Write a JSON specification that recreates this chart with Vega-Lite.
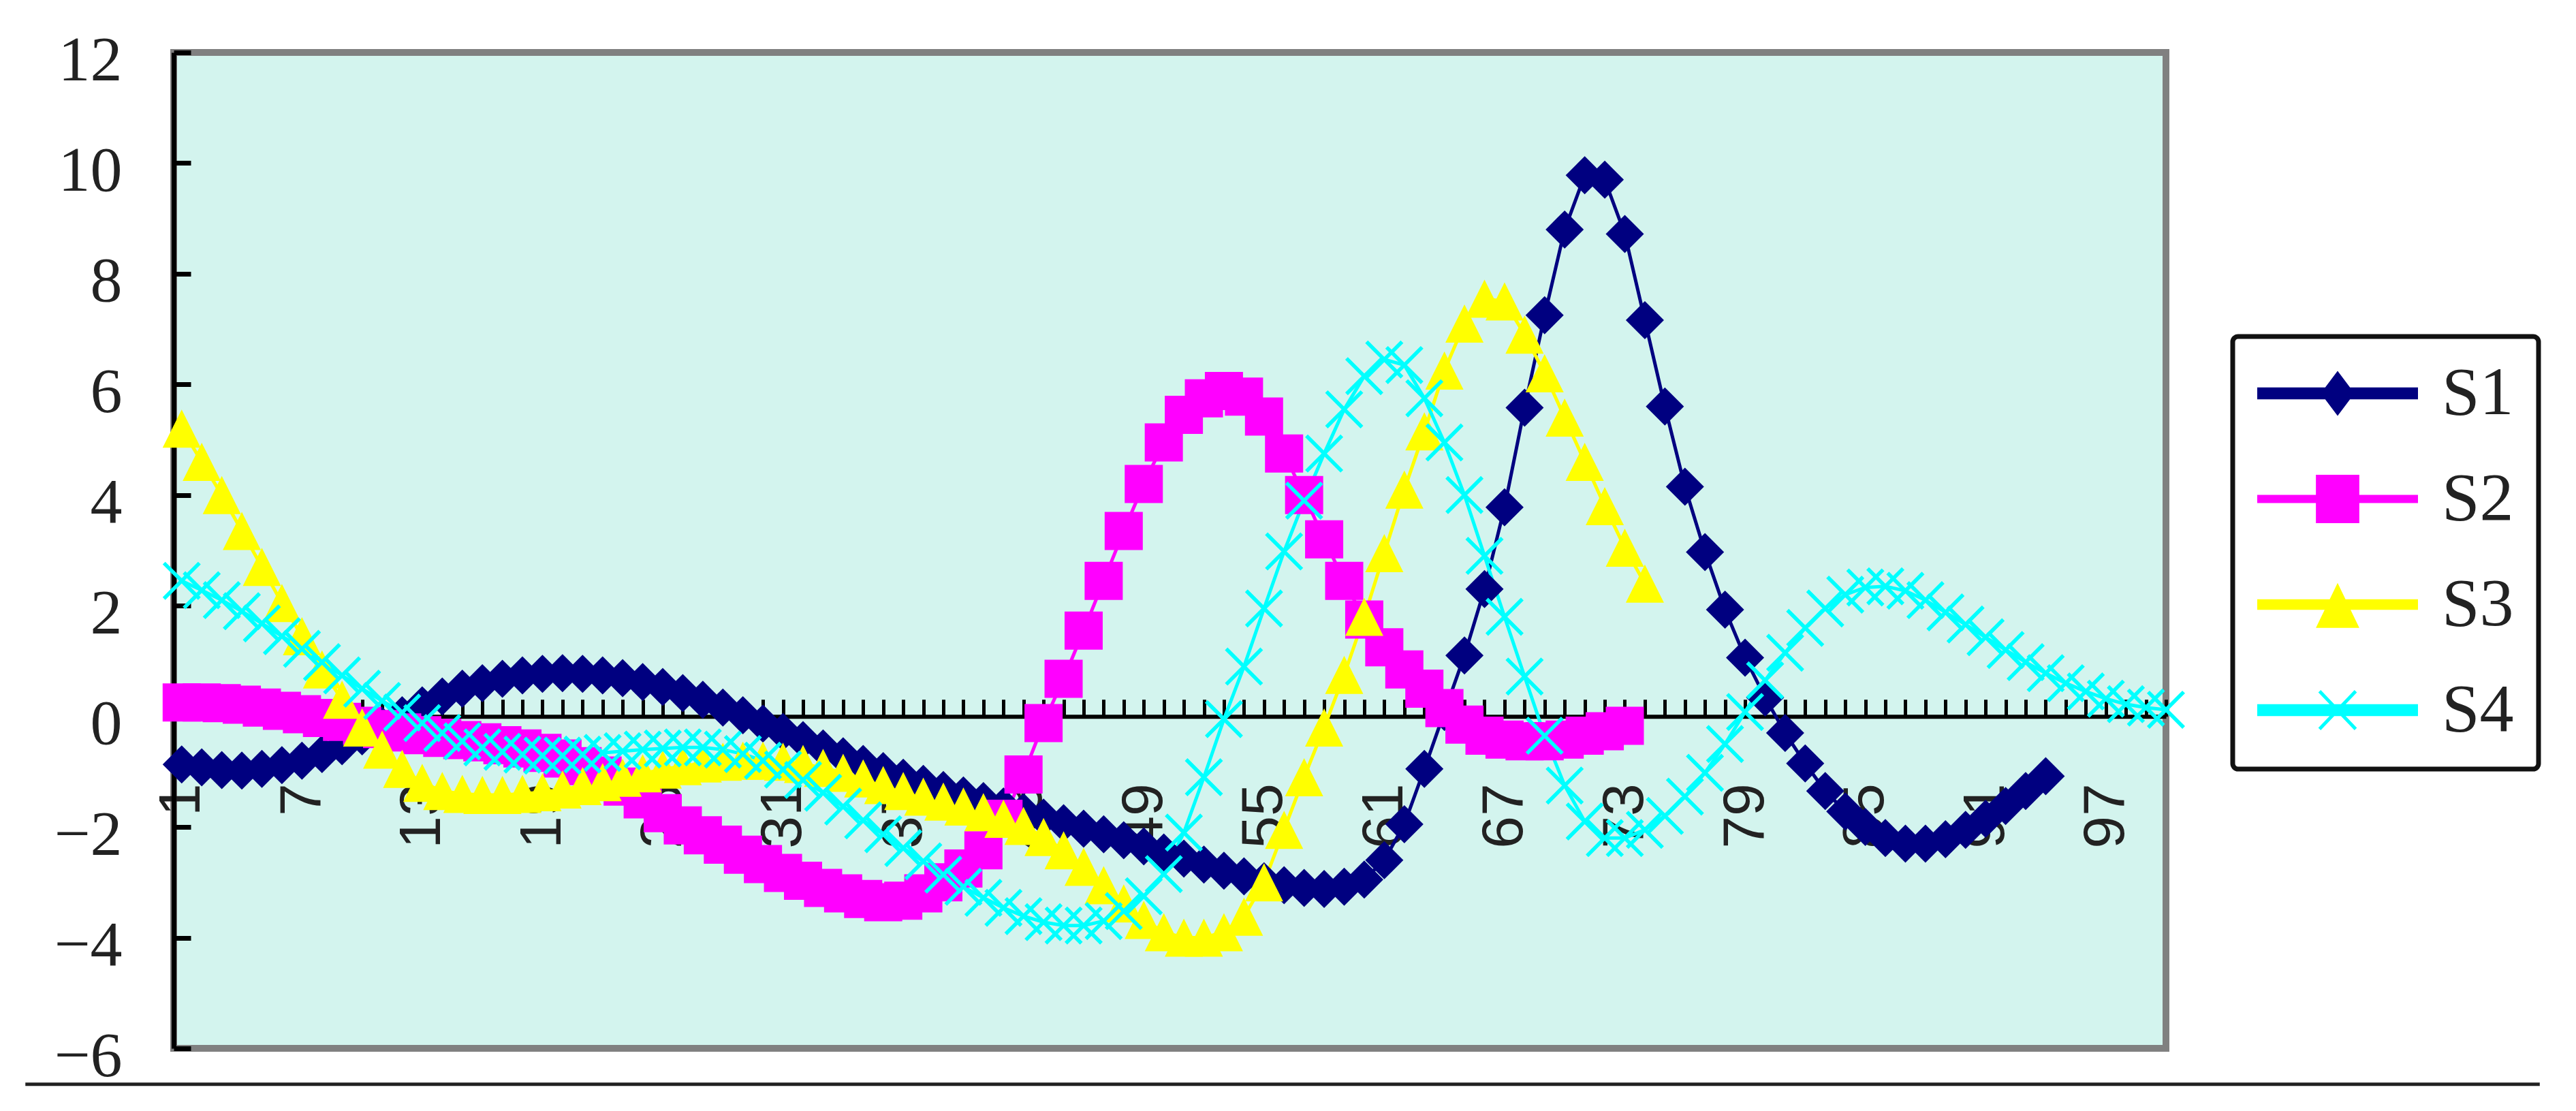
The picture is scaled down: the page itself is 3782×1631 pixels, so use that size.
{
  "$schema": "https://vega.github.io/schema/vega-lite/v6.json",
  "width": 2925,
  "height": 1462,
  "autosize": {"type": "none"},
  "padding": {"left": 255, "top": 77, "right": 602, "bottom": 92},
  "background": "white",
  "config": {
    "view": {"fill": "#D3F4EE", "stroke": "#808080", "strokeWidth": 10},
    "legend": {"strokeWidth": 7}
  },
  "data": {"values": [
    {"i":1,"s":"S1","v":-0.87},{"i":2,"s":"S1","v":-0.92},{"i":3,"s":"S1","v":-0.97},{"i":4,"s":"S1","v":-0.98},{"i":5,"s":"S1","v":-0.95},
    {"i":6,"s":"S1","v":-0.88},{"i":7,"s":"S1","v":-0.8},{"i":8,"s":"S1","v":-0.68},{"i":9,"s":"S1","v":-0.54},{"i":10,"s":"S1","v":-0.36},
    {"i":11,"s":"S1","v":-0.17},{"i":12,"s":"S1","v":0.02},{"i":13,"s":"S1","v":0.2},{"i":14,"s":"S1","v":0.36},{"i":15,"s":"S1","v":0.5},
    {"i":16,"s":"S1","v":0.6},{"i":17,"s":"S1","v":0.68},{"i":18,"s":"S1","v":0.74},{"i":19,"s":"S1","v":0.77},{"i":20,"s":"S1","v":0.78},
    {"i":21,"s":"S1","v":0.77},{"i":22,"s":"S1","v":0.74},{"i":23,"s":"S1","v":0.69},{"i":24,"s":"S1","v":0.62},{"i":25,"s":"S1","v":0.53},
    {"i":26,"s":"S1","v":0.42},{"i":27,"s":"S1","v":0.3},{"i":28,"s":"S1","v":0.16},{"i":29,"s":"S1","v":0.02},{"i":30,"s":"S1","v":-0.13},
    {"i":31,"s":"S1","v":-0.28},{"i":32,"s":"S1","v":-0.43},{"i":33,"s":"S1","v":-0.58},{"i":34,"s":"S1","v":-0.72},{"i":35,"s":"S1","v":-0.86},
    {"i":36,"s":"S1","v":-0.99},{"i":37,"s":"S1","v":-1.11},{"i":38,"s":"S1","v":-1.22},{"i":39,"s":"S1","v":-1.33},{"i":40,"s":"S1","v":-1.43},
    {"i":41,"s":"S1","v":-1.53},{"i":42,"s":"S1","v":-1.63},{"i":43,"s":"S1","v":-1.73},{"i":44,"s":"S1","v":-1.83},{"i":45,"s":"S1","v":-1.93},
    {"i":46,"s":"S1","v":-2.03},{"i":47,"s":"S1","v":-2.13},{"i":48,"s":"S1","v":-2.24},{"i":49,"s":"S1","v":-2.35},{"i":50,"s":"S1","v":-2.46},
    {"i":51,"s":"S1","v":-2.57},{"i":52,"s":"S1","v":-2.68},{"i":53,"s":"S1","v":-2.79},{"i":54,"s":"S1","v":-2.89},{"i":55,"s":"S1","v":-2.98},
    {"i":56,"s":"S1","v":-3.05},{"i":57,"s":"S1","v":-3.1},{"i":58,"s":"S1","v":-3.12},{"i":59,"s":"S1","v":-3.08},{"i":60,"s":"S1","v":-2.95},
    {"i":61,"s":"S1","v":-2.6},{"i":62,"s":"S1","v":-1.95},{"i":63,"s":"S1","v":-0.95},{"i":64,"s":"S1","v":0.08},{"i":65,"s":"S1","v":1.1},
    {"i":66,"s":"S1","v":2.3},{"i":67,"s":"S1","v":3.78},{"i":68,"s":"S1","v":5.58},{"i":69,"s":"S1","v":7.25},{"i":70,"s":"S1","v":8.8},
    {"i":71,"s":"S1","v":9.78},{"i":72,"s":"S1","v":9.7},{"i":73,"s":"S1","v":8.72},{"i":74,"s":"S1","v":7.16},{"i":75,"s":"S1","v":5.6},
    {"i":76,"s":"S1","v":4.15},{"i":77,"s":"S1","v":2.97},{"i":78,"s":"S1","v":1.93},{"i":79,"s":"S1","v":1.06},{"i":80,"s":"S1","v":0.34},
    {"i":81,"s":"S1","v":-0.3},{"i":82,"s":"S1","v":-0.85},{"i":83,"s":"S1","v":-1.35},{"i":84,"s":"S1","v":-1.72},{"i":85,"s":"S1","v":-2.0},
    {"i":86,"s":"S1","v":-2.2},{"i":87,"s":"S1","v":-2.3},{"i":88,"s":"S1","v":-2.3},{"i":89,"s":"S1","v":-2.22},{"i":90,"s":"S1","v":-2.05},
    {"i":91,"s":"S1","v":-1.85},{"i":92,"s":"S1","v":-1.62},{"i":93,"s":"S1","v":-1.35},{"i":94,"s":"S1","v":-1.08},

    {"i":1,"s":"S2","v":0.25},{"i":2,"s":"S2","v":0.25},{"i":3,"s":"S2","v":0.24},{"i":4,"s":"S2","v":0.21},{"i":5,"s":"S2","v":0.16},
    {"i":6,"s":"S2","v":0.1},{"i":7,"s":"S2","v":0.04},{"i":8,"s":"S2","v":-0.03},{"i":9,"s":"S2","v":-0.1},{"i":10,"s":"S2","v":-0.17},
    {"i":11,"s":"S2","v":-0.23},{"i":12,"s":"S2","v":-0.29},{"i":13,"s":"S2","v":-0.34},{"i":14,"s":"S2","v":-0.39},{"i":15,"s":"S2","v":-0.43},
    {"i":16,"s":"S2","v":-0.47},{"i":17,"s":"S2","v":-0.52},{"i":18,"s":"S2","v":-0.58},{"i":19,"s":"S2","v":-0.66},{"i":20,"s":"S2","v":-0.76},
    {"i":21,"s":"S2","v":-0.9},{"i":22,"s":"S2","v":-1.07},{"i":23,"s":"S2","v":-1.27},{"i":24,"s":"S2","v":-1.5},{"i":25,"s":"S2","v":-1.75},
    {"i":26,"s":"S2","v":-1.97},{"i":27,"s":"S2","v":-2.15},{"i":28,"s":"S2","v":-2.32},{"i":29,"s":"S2","v":-2.5},{"i":30,"s":"S2","v":-2.67},
    {"i":31,"s":"S2","v":-2.83},{"i":32,"s":"S2","v":-2.97},{"i":33,"s":"S2","v":-3.1},{"i":34,"s":"S2","v":-3.2},{"i":35,"s":"S2","v":-3.3},
    {"i":36,"s":"S2","v":-3.36},{"i":37,"s":"S2","v":-3.33},{"i":38,"s":"S2","v":-3.2},{"i":39,"s":"S2","v":-3.0},{"i":40,"s":"S2","v":-2.75},
    {"i":41,"s":"S2","v":-2.42},{"i":42,"s":"S2","v":-1.85},{"i":43,"s":"S2","v":-1.05},{"i":44,"s":"S2","v":-0.12},{"i":45,"s":"S2","v":0.68},
    {"i":46,"s":"S2","v":1.55},{"i":47,"s":"S2","v":2.45},{"i":48,"s":"S2","v":3.35},{"i":49,"s":"S2","v":4.2},{"i":50,"s":"S2","v":4.95},
    {"i":51,"s":"S2","v":5.45},{"i":52,"s":"S2","v":5.75},{"i":53,"s":"S2","v":5.88},{"i":54,"s":"S2","v":5.78},{"i":55,"s":"S2","v":5.42},
    {"i":56,"s":"S2","v":4.75},{"i":57,"s":"S2","v":4.0},{"i":58,"s":"S2","v":3.2},{"i":59,"s":"S2","v":2.45},{"i":60,"s":"S2","v":1.75},
    {"i":61,"s":"S2","v":1.25},{"i":62,"s":"S2","v":0.85},{"i":63,"s":"S2","v":0.5},{"i":64,"s":"S2","v":0.15},{"i":65,"s":"S2","v":-0.15},
    {"i":66,"s":"S2","v":-0.35},{"i":67,"s":"S2","v":-0.42},{"i":68,"s":"S2","v":-0.45},{"i":69,"s":"S2","v":-0.45},{"i":70,"s":"S2","v":-0.42},
    {"i":71,"s":"S2","v":-0.35},{"i":72,"s":"S2","v":-0.27},{"i":73,"s":"S2","v":-0.17},

    {"i":1,"s":"S3","v":5.2},{"i":2,"s":"S3","v":4.6},{"i":3,"s":"S3","v":4.0},{"i":4,"s":"S3","v":3.35},{"i":5,"s":"S3","v":2.7},
    {"i":6,"s":"S3","v":2.05},{"i":7,"s":"S3","v":1.45},{"i":8,"s":"S3","v":0.85},{"i":9,"s":"S3","v":0.3},{"i":10,"s":"S3","v":-0.2},
    {"i":11,"s":"S3","v":-0.6},{"i":12,"s":"S3","v":-0.95},{"i":13,"s":"S3","v":-1.2},{"i":14,"s":"S3","v":-1.35},{"i":15,"s":"S3","v":-1.4},
    {"i":16,"s":"S3","v":-1.42},{"i":17,"s":"S3","v":-1.42},{"i":18,"s":"S3","v":-1.4},{"i":19,"s":"S3","v":-1.37},{"i":20,"s":"S3","v":-1.32},
    {"i":21,"s":"S3","v":-1.26},{"i":22,"s":"S3","v":-1.19},{"i":23,"s":"S3","v":-1.11},{"i":24,"s":"S3","v":-1.03},{"i":25,"s":"S3","v":-0.96},
    {"i":26,"s":"S3","v":-0.9},{"i":27,"s":"S3","v":-0.85},{"i":28,"s":"S3","v":-0.82},{"i":29,"s":"S3","v":-0.8},{"i":30,"s":"S3","v":-0.8},
    {"i":31,"s":"S3","v":-0.82},{"i":32,"s":"S3","v":-0.86},{"i":33,"s":"S3","v":-0.93},{"i":34,"s":"S3","v":-1.02},{"i":35,"s":"S3","v":-1.12},
    {"i":36,"s":"S3","v":-1.24},{"i":37,"s":"S3","v":-1.35},{"i":38,"s":"S3","v":-1.45},{"i":39,"s":"S3","v":-1.54},{"i":40,"s":"S3","v":-1.63},
    {"i":41,"s":"S3","v":-1.73},{"i":42,"s":"S3","v":-1.85},{"i":43,"s":"S3","v":-1.98},{"i":44,"s":"S3","v":-2.18},{"i":45,"s":"S3","v":-2.42},
    {"i":46,"s":"S3","v":-2.72},{"i":47,"s":"S3","v":-3.05},{"i":48,"s":"S3","v":-3.38},{"i":49,"s":"S3","v":-3.68},{"i":50,"s":"S3","v":-3.9},
    {"i":51,"s":"S3","v":-4.0},{"i":52,"s":"S3","v":-4.0},{"i":53,"s":"S3","v":-3.9},{"i":54,"s":"S3","v":-3.62},{"i":55,"s":"S3","v":-3.0},
    {"i":56,"s":"S3","v":-2.05},{"i":57,"s":"S3","v":-1.1},{"i":58,"s":"S3","v":-0.2},{"i":59,"s":"S3","v":0.75},{"i":60,"s":"S3","v":1.8},
    {"i":61,"s":"S3","v":2.95},{"i":62,"s":"S3","v":4.1},{"i":63,"s":"S3","v":5.15},{"i":64,"s":"S3","v":6.25},{"i":65,"s":"S3","v":7.1},
    {"i":66,"s":"S3","v":7.55},{"i":67,"s":"S3","v":7.5},{"i":68,"s":"S3","v":6.9},{"i":69,"s":"S3","v":6.2},{"i":70,"s":"S3","v":5.4},
    {"i":71,"s":"S3","v":4.6},{"i":72,"s":"S3","v":3.8},{"i":73,"s":"S3","v":3.05},{"i":74,"s":"S3","v":2.4},

    {"i":1,"s":"S4","v":2.45},{"i":2,"s":"S4","v":2.28},{"i":3,"s":"S4","v":2.1},{"i":4,"s":"S4","v":1.9},{"i":5,"s":"S4","v":1.68},
    {"i":6,"s":"S4","v":1.45},{"i":7,"s":"S4","v":1.22},{"i":8,"s":"S4","v":0.98},{"i":9,"s":"S4","v":0.74},{"i":10,"s":"S4","v":0.5},
    {"i":11,"s":"S4","v":0.28},{"i":12,"s":"S4","v":0.07},{"i":13,"s":"S4","v":-0.12},{"i":14,"s":"S4","v":-0.3},{"i":15,"s":"S4","v":-0.45},
    {"i":16,"s":"S4","v":-0.56},{"i":17,"s":"S4","v":-0.64},{"i":18,"s":"S4","v":-0.69},{"i":19,"s":"S4","v":-0.71},{"i":20,"s":"S4","v":-0.71},
    {"i":21,"s":"S4","v":-0.69},{"i":22,"s":"S4","v":-0.66},{"i":23,"s":"S4","v":-0.63},{"i":24,"s":"S4","v":-0.6},{"i":25,"s":"S4","v":-0.58},
    {"i":26,"s":"S4","v":-0.56},{"i":27,"s":"S4","v":-0.56},{"i":28,"s":"S4","v":-0.6},{"i":29,"s":"S4","v":-0.68},{"i":30,"s":"S4","v":-0.8},
    {"i":31,"s":"S4","v":-0.96},{"i":32,"s":"S4","v":-1.15},{"i":33,"s":"S4","v":-1.38},{"i":34,"s":"S4","v":-1.63},{"i":35,"s":"S4","v":-1.88},
    {"i":36,"s":"S4","v":-2.13},{"i":37,"s":"S4","v":-2.38},{"i":38,"s":"S4","v":-2.62},{"i":39,"s":"S4","v":-2.86},{"i":40,"s":"S4","v":-3.08},
    {"i":41,"s":"S4","v":-3.28},{"i":42,"s":"S4","v":-3.46},{"i":43,"s":"S4","v":-3.61},{"i":44,"s":"S4","v":-3.72},{"i":45,"s":"S4","v":-3.78},
    {"i":46,"s":"S4","v":-3.78},{"i":47,"s":"S4","v":-3.7},{"i":48,"s":"S4","v":-3.52},{"i":49,"s":"S4","v":-3.25},{"i":50,"s":"S4","v":-2.85},
    {"i":51,"s":"S4","v":-2.1},{"i":52,"s":"S4","v":-1.1},{"i":53,"s":"S4","v":-0.05},{"i":54,"s":"S4","v":0.9},{"i":55,"s":"S4","v":1.95},
    {"i":56,"s":"S4","v":2.98},{"i":57,"s":"S4","v":3.9},{"i":58,"s":"S4","v":4.75},{"i":59,"s":"S4","v":5.55},{"i":60,"s":"S4","v":6.15},
    {"i":61,"s":"S4","v":6.45},{"i":62,"s":"S4","v":6.35},{"i":63,"s":"S4","v":5.75},{"i":64,"s":"S4","v":4.95},{"i":65,"s":"S4","v":4.0},
    {"i":66,"s":"S4","v":2.9},{"i":67,"s":"S4","v":1.8},{"i":68,"s":"S4","v":0.72},{"i":69,"s":"S4","v":-0.35},{"i":70,"s":"S4","v":-1.25},
    {"i":71,"s":"S4","v":-1.9},{"i":72,"s":"S4","v":-2.2},{"i":73,"s":"S4","v":-2.2},{"i":74,"s":"S4","v":-2.05},{"i":75,"s":"S4","v":-1.8},
    {"i":76,"s":"S4","v":-1.45},{"i":77,"s":"S4","v":-1.02},{"i":78,"s":"S4","v":-0.5},{"i":79,"s":"S4","v":0.08},{"i":80,"s":"S4","v":0.65},
    {"i":81,"s":"S4","v":1.15},{"i":82,"s":"S4","v":1.6},{"i":83,"s":"S4","v":1.95},{"i":84,"s":"S4","v":2.2},{"i":85,"s":"S4","v":2.33},
    {"i":86,"s":"S4","v":2.35},{"i":87,"s":"S4","v":2.27},{"i":88,"s":"S4","v":2.1},{"i":89,"s":"S4","v":1.88},{"i":90,"s":"S4","v":1.66},
    {"i":91,"s":"S4","v":1.43},{"i":92,"s":"S4","v":1.2},{"i":93,"s":"S4","v":0.98},{"i":94,"s":"S4","v":0.78},{"i":95,"s":"S4","v":0.6},
    {"i":96,"s":"S4","v":0.45},{"i":97,"s":"S4","v":0.32},{"i":98,"s":"S4","v":0.22},{"i":99,"s":"S4","v":0.16},{"i":100,"s":"S4","v":0.12}
  ]},
  "encoding": {
    "x": {
      "field": "i", "type": "quantitative",
      "scale": {"domain": [0.6, 100], "nice": false, "zero": false},
      "axis": {
        "orient": "bottom", "offset": -487.3, "title": null, "grid": false,
        "tickCount": 100,
        "labelExpr": "(datum.value - 1) % 6 === 0 ? datum.label : ''",
        "labelAngle": -90, "labelAlign": "right", "labelBaseline": "middle",
        "labelPadding": 123, "tickSize": -25, "tickWidth": 5, "tickColor": "#000",
        "domainColor": "#000", "domainWidth": 6,
        "labelFont": "Liberation Sans", "labelFontSize": 86, "labelColor": "#222",
        "labelFlush": false, "labelOverlap": false, "labelBound": false, "zindex": 0
      }
    },
    "y": {
      "field": "v", "type": "quantitative",
      "scale": {"domain": [-6, 12], "nice": false, "zero": false},
      "axis": {
        "values": [-6, -4, -2, 0, 2, 4, 6, 8, 10, 12],
        "title": null, "grid": false,
        "domainColor": "#000", "domainWidth": 7,
        "tickColor": "#000", "tickWidth": 7, "tickSize": -25,
        "labelPadding": 101, "labelOffset": 12,
        "labelFont": "Liberation Serif", "labelFontSize": 94, "labelColor": "#222",
        "labelFlush": false, "labelOverlap": false, "labelBound": false, "zindex": 0
      }
    }
  },
  "layer": [
    {"transform": [{"filter": "datum.s === 'S1'"}], "mark": {"type": "line", "strokeWidth": 5, "color": "#000080"}},
    {"transform": [{"filter": "datum.s === 'S2'"}], "mark": {"type": "line", "strokeWidth": 5, "color": "#FF00FF"}},
    {"transform": [{"filter": "datum.s === 'S3'"}], "mark": {"type": "line", "strokeWidth": 5, "color": "#FFFF00"}},
    {"transform": [{"filter": "datum.s === 'S4'"}], "mark": {"type": "line", "strokeWidth": 5, "color": "#00FFFF"}},
    {
      "transform": [{"filter": "datum.s === 'S1'"}],
      "mark": {"type": "point", "filled": true, "opacity": 1, "size": 3136, "color": "#000080", "shape": "M0,-1L1,0L0,1L-1,0Z"}
    },
    {
      "transform": [{"filter": "datum.s === 'S2'"}],
      "mark": {"type": "point", "filled": true, "opacity": 1, "size": 3136, "color": "#FF00FF", "shape": "M-1,-1L1,-1L1,1L-1,1Z"}
    },
    {
      "transform": [{"filter": "datum.s === 'S3'"}],
      "mark": {"type": "point", "filled": true, "opacity": 1, "size": 3136, "color": "#FFFF00", "shape": "M0,-1L1,1L-1,1Z"}
    },
    {
      "transform": [{"filter": "datum.s === 'S4'"}],
      "mark": {"type": "point", "filled": true, "opacity": 1, "size": 3136, "color": "#00FFFF", "shape": "M-1,-0.86L-0.86,-1L1,0.86L0.86,1ZM0.86,-1L1,-0.86L-0.86,1L-1,0.86Z"}
    },
    {
      "transform": [{"filter": "datum.i > 1000"}],
      "mark": {"type": "point", "filled": true, "opacity": 1},
      "encoding": {
        "color": {
          "field": "s", "type": "nominal",
          "scale": {"domain": ["S1", "S2", "S3", "S4"], "range": ["#000080", "#FF00FF", "#FFFF00", "#00FFFF"]},
          "legend": {
            "title": null, "orient": "none", "legendX": 3023, "legendY": 417,
            "direction": "vertical",
            "fillColor": "white", "strokeColor": "#111", "cornerRadius": 8,
            "padding": 36, "rowPadding": 54, "clipHeight": 95,
            "labelFont": "Liberation Serif", "labelFontSize": 100, "labelColor": "#222",
            "labelOffset": 35, "labelLimit": 0,
            "symbolSize": 55696, "symbolStrokeWidth": 0, "symbolOpacity": 1
          }
        },
        "shape": {
          "field": "s", "type": "nominal",
          "scale": {
            "domain": ["S1", "S2", "S3", "S4"],
            "range": [
              "M-1,-0.075L1,-0.075L1,0.075L-1,0.075ZM0,-0.28L0.21,0L0,0.28L-0.21,0Z",
              "M-1,-0.05L1,-0.05L1,0.05L-1,0.05ZM-0.27,-0.3L0.27,-0.3L0.27,0.3L-0.27,0.3Z",
              "M-1,-0.065L1,-0.065L1,0.065L-1,0.065ZM0,-0.27L0.27,0.29L-0.27,0.29Z",
              "M-1,-0.075L1,-0.075L1,0.075L-1,0.075ZM-0.24,-0.22L-0.21,-0.25L0.24,0.22L0.21,0.25ZM0.21,-0.25L0.24,-0.22L-0.21,0.25L-0.24,0.22Z"
            ]
          },
          "legend": {
            "title": null, "orient": "none", "legendX": 3023, "legendY": 417,
            "direction": "vertical",
            "fillColor": "white", "strokeColor": "#111", "cornerRadius": 8,
            "padding": 36, "rowPadding": 54, "clipHeight": 95,
            "labelFont": "Liberation Serif", "labelFontSize": 100, "labelColor": "#222",
            "labelOffset": 35, "labelLimit": 0,
            "symbolSize": 55696, "symbolStrokeWidth": 0, "symbolOpacity": 1
          }
        }
      }
    },
    {
      "transform": [{"filter": "datum.s === 'S1' && datum.i === 1"}],
      "mark": {"type": "rule", "color": "#222", "strokeWidth": 5, "clip": false},
      "encoding": {
        "x": {"datum": -6.8, "type": "quantitative"},
        "x2": {"datum": 118.65, "type": "quantitative"},
        "y": {"datum": -6.65, "type": "quantitative"}
      }
    }
  ]
}
